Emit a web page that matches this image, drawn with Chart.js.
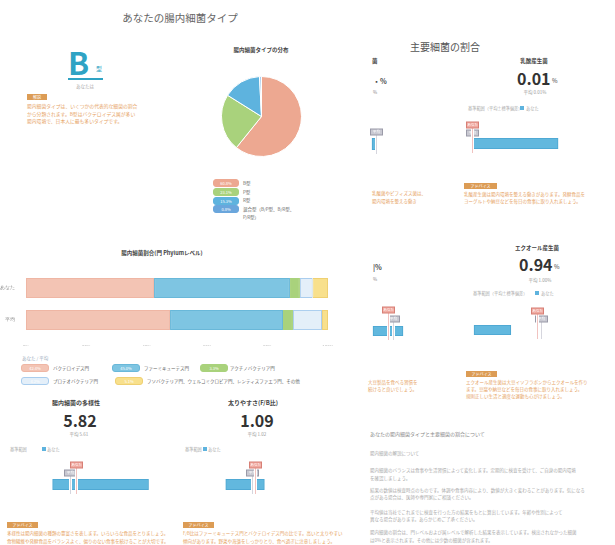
<!DOCTYPE html>
<html lang="ja">
<head>
<meta charset="utf-8">
<script src="https://cdn.jsdelivr.net/npm/chart.js@4"></script>
<style>
  body { margin: 0; width: 615px; height: 545px; background: #fff; position: relative; overflow: hidden;
         font-family: "Noto Sans CJK JP", "Noto Sans", sans-serif; }
  .t { position: absolute; white-space: nowrap; line-height: 1; }
  canvas { position: absolute; }
  .pill { position: absolute; height: 6px; border-radius: 3px; border: 1px solid; color: #fff;
          font-size: 4px; line-height: 6px; text-align: center; box-sizing: content-box; }
  .tag { position: absolute; background: #dc9c55; color: #fff; font-size: 4px; line-height: 6px;
         height: 6px; text-align: center; }
</style>
</head>
<body>
<canvas id="pie" width="81" height="81" style="left:221px;top:76px"></canvas>
<canvas id="phylum" width="340" height="84" style="left:0;top:262px"></canvas>
<canvas id="g0"></canvas><canvas id="g1"></canvas><canvas id="g2"></canvas>
<canvas id="g3"></canvas><canvas id="g4"></canvas><canvas id="g5"></canvas>
<script>
// 腸内細菌タイプの分布
const typeLabels = ['B型', 'P型', 'R型', '混合型'];
const typeShare = [60.8, 23.1, 15.3, 0.8];

// 腸内細菌割合(門 Phylumレベル)
const phylumRows = ['あなた', '平均'];
const phylumNames = ['バクテロイデス門', 'ファーミキューテス門', 'アクチノバクテリア門', 'プロテオバクテリア門', 'その他'];
const bacteroidetes = [42.4, 47.7];
const firmicutes = [45.0, 37.4];
const actinobacteria = [3.3, 3.3];
const proteobacteria = [4.2, 9.6];
const others = [5.1, 2.0];
const phylumTicks = [0, 20, 40, 60, 80, 100];

// 主要細菌の割合 / 多様性 / F/B比  (g0, g2 are the cut-off cards at the page seam)
const gaugeNames = ['', '乳酸産生菌', '', 'エクオール産生菌', '腸内細菌の多様性', '太りやすさ(F/B比)'];
const gaugeYou = [null, 0.01, 2.6, 0.94, 5.82, 1.09];
const gaugeAvg = [1.4, 0.01, 3.1, 1.00, 5.61, 1.02];
const gaugeLow = [1.0, 0, 1.1, 0, 5.0, 0.4];
const gaugeHigh = [1.4, 3.5, 4.1, 0.55, 8.35, 1.3];

const salmon = '#eda891', green = '#a9d27c', blue = '#5eb3de', pale = '#a7cdef';
const orange = '#e6a263';

function txt(x, y, s, size, color, bold, center) {
  const d = document.createElement('div');
  d.className = 't';
  d.textContent = s;
  d.style.fontSize = size + 'px';
  d.style.color = color;
  if (bold) d.style.fontWeight = 'bold';
  d.style.top = (y - size / 2) + 'px';
  d.style.left = x + 'px';
  if (center) d.style.transform = 'translateX(-50%)';
  document.body.appendChild(d);
  return d;
}
function pill(x, y, w, fill, border, s) {
  const d = document.createElement('div');
  d.className = 'pill';
  d.style.left = x + 'px'; d.style.top = (y - 4) + 'px'; d.style.width = w + 'px';
  d.style.background = fill; d.style.borderColor = border;
  d.textContent = s;
  document.body.appendChild(d);
}
function tag(x, y, w, s) {
  const d = document.createElement('div');
  d.className = 'tag';
  d.style.left = x + 'px'; d.style.top = (y - 3) + 'px'; d.style.width = w + 'px';
  d.textContent = s;
  document.body.appendChild(d);
}
function square(x, y) {
  const d = document.createElement('div');
  d.style.cssText = `position:absolute;left:${x}px;top:${y - 2}px;width:4px;height:4px;background:${blue}`;
  document.body.appendChild(d);
}

// ---- left page, top ----
txt(180, 18, 'あなたの腸内細菌タイプ', 10.5, '#666', false, true);
txt(68, 61, 'B', 31, '#2fa3c4', true);
txt(96, 69, '型', 6, '#2fa3c4');
const ul = document.createElement('div');
ul.style.cssText = 'position:absolute;left:68px;top:78px;width:35px;height:2px;background:#2fa3c4';
document.body.appendChild(ul);
txt(85, 86, 'あなたは', 4.5, '#aaa', false, true);
tag(27, 97, 20, '解説');
txt(27, 106, '腸内細菌タイプは、いくつかの代表的な細菌の割合', 4.8, orange);
txt(27, 114, 'から分類されます。B型はバクテロイデス属が多い', 4.8, orange);
txt(27, 121, '腸内環境で、日本人に最も多いタイプです。', 4.8, orange);

txt(261, 51, '腸内細菌タイプの分布', 5.5, '#444', true, true);
new Chart(document.getElementById('pie'), {
  type: 'pie',
  data: { labels: typeLabels,
          datasets: [{ data: typeShare, backgroundColor: [salmon, green, blue, pale],
                       borderColor: '#fff', borderWidth: 1 }] },
  options: { responsive: false, animation: false, devicePixelRatio: 1,
             plugins: { legend: { display: false }, tooltip: { enabled: false } } }
});
const pieColors = [salmon, green, blue, '#6aa6dc'];
typeLabels.forEach((l, i) => {
  pill(213, 183 + i * 8.8, 24, pieColors[i], pieColors[i], typeShare[i].toFixed(1) + '%');
  txt(243, 183 + i * 8.8, i === 3 ? '混合型（B/P型、B/R型、' : l, 4.5, '#666');
});
txt(243, 217, 'P/R型）', 4.5, '#666');

// ---- left page, phylum chart ----
txt(162, 254, '腸内細菌割合(門 Phylumレベル)', 5.5, '#444', true, true);
const phylumSets = [bacteroidetes, firmicutes, actinobacteria, proteobacteria, others];
const phylumFill = ['#f3c4b4', '#7ec5e2', '#a9d27c', '#e4eff9', '#f8e08c'];
const phylumEdge = ['#efb6a4', '#69b8d9', '#a9d27c', '#a9cdee', '#efd072'];
new Chart(document.getElementById('phylum'), {
  type: 'bar',
  data: {
    labels: phylumRows,
    datasets: phylumSets.map((d, i) => ({
      label: phylumNames[i], data: d, backgroundColor: phylumFill[i], borderColor: phylumEdge[i],
      borderWidth: 1, borderSkipped: false, barPercentage: 0.63, categoryPercentage: 1
    }))
  },
  options: {
    indexAxis: 'y', responsive: false, animation: false, devicePixelRatio: 1,
    layout: { padding: { top: 10, right: 12 } },
    scales: {
      x: { stacked: true, min: 0, max: 100, grid: { display: false }, border: { display: false },
           afterBuildTicks: s => { s.ticks = phylumTicks.map(v => ({ value: v })); },
           afterFit: s => { s.height = 10; },
           ticks: { font: { size: 4.5 }, color: '#bbb', padding: 1, callback: v => v + '%' } },
      y: { stacked: true, grid: { display: false }, border: { display: false },
           afterFit: s => { s.width = 26; },
           ticks: { font: { size: 4.5 }, color: '#888' } }
    },
    plugins: { legend: { display: false }, tooltip: { enabled: false } }
  }
});
txt(22, 358, 'あなた / 平均', 4.5, '#9ab');
const legendPos = [[21, 368, 53], [112, 368, 144], [200, 368, 230], [21, 381, 53], [115, 381, 147]];
const legendText = ['バクテロイデス門', 'ファーミキューテス門', 'アクチノバクテリア門', 'プロテオバクテリア門',
                    'フソバクテリア門、ウェルコミクロビア門、レンティスファエラ門、その他'];
legendPos.forEach((p, i) => {
  pill(p[0], p[1], 26, phylumFill[i], phylumEdge[i], phylumSets[i][0].toFixed(1) + '%');
  txt(p[2], p[1], legendText[i], 4.5, '#666');
});

// ---- gauges ----
const gaugeBoxes = [
  { left: 362, top: 115, width: 48, barTop: 138, barBottom: 150, youY: 124, avgY: 132, min: 0, max: 4.8 },
  { left: 455, top: 115, width: 135, barTop: 138, barBottom: 149, youY: 125, avgY: 133, min: -0.7, max: 4.8 },
  { left: 362, top: 300, width: 48, barTop: 326, barBottom: 336, youY: 310, avgY: 319, min: 0, max: 4.8 },
  { left: 455, top: 300, width: 140, barTop: 325, barBottom: 335, youY: 311, avgY: 319, min: -0.284, max: 1.806 },
  { left: 30, top: 455, width: 140, barTop: 479, barBottom: 490, youY: 465, avgY: 473, min: 4.21, max: 9.1 },
  { left: 200, top: 455, width: 100, barTop: 479, barBottom: 490, youY: 465, avgY: 473, min: -0.2, max: 2.13 }
];
gaugeBoxes.forEach((b, i) => {
  const cv = document.getElementById('g' + i);
  const h = b.barBottom - b.top + 14;
  cv.width = b.width; cv.height = h;
  cv.style.left = b.left + 'px'; cv.style.top = b.top + 'px';
  const marks = [];
  if (gaugeAvg[i] !== null) marks.push({ v: gaugeAvg[i], y: b.avgY - b.top, fill: '#c9c9d2', edge: '#9a9aa8', line: '#d6d6de', s: '平均' });
  if (gaugeYou[i] !== null) marks.push({ v: gaugeYou[i], y: b.youY - b.top, fill: '#f0a9a0', edge: '#d77f75', line: '#f1c3c0', s: 'あなた' });
  new Chart(cv, {
    type: 'bar',
    data: { labels: [''], datasets: [{ data: [[gaugeLow[i], gaugeHigh[i]]], backgroundColor: '#62b8de',
            borderColor: '#4aa5d0', borderWidth: 1, borderSkipped: false, barPercentage: 1, categoryPercentage: 1 }] },
    options: {
      indexAxis: 'y', responsive: false, animation: false, devicePixelRatio: 1,
      layout: { padding: { top: b.barTop - b.top, bottom: 14, left: 0, right: 0 } },
      scales: { x: { type: 'linear', min: b.min, max: b.max, display: false }, y: { display: false } },
      plugins: { legend: { display: false }, tooltip: { enabled: false } }
    },
    plugins: [{
      id: 'marks',
      afterDatasetsDraw(chart) {
        const { ctx, chartArea, scales } = chart;
        marks.forEach(m => {
          const x = Math.round(scales.x.getPixelForValue(m.v)) + 0.5;
          ctx.save();
          ctx.strokeStyle = '#fff'; ctx.lineWidth = 3;
          ctx.beginPath(); ctx.moveTo(x, m.y + 3); ctx.lineTo(x, chartArea.bottom + 4); ctx.stroke();
          ctx.strokeStyle = m.line; ctx.lineWidth = 1;
          ctx.beginPath(); ctx.moveTo(x, m.y + 3); ctx.lineTo(x, chartArea.bottom + 4); ctx.stroke();
          ctx.fillStyle = m.fill; ctx.strokeStyle = m.edge;
          ctx.fillRect(x - 6, m.y - 3, 12, 6); ctx.strokeRect(x - 6, m.y - 3, 12, 6);
          ctx.fillStyle = '#fff'; ctx.font = '3.5px "Noto Sans CJK JP"';
          ctx.textAlign = 'center'; ctx.textBaseline = 'middle';
          ctx.fillText(m.s, x, m.y);
          ctx.restore();
        });
      }
    }]
  });
});

// ---- right page ----
txt(445, 47, '主要細菌の割合', 10, '#555', false, true);
txt(372, 62, '菌', 5.5, '#444', true);
txt(373, 81, '・%', 7, '#444', true);
txt(373, 92, '%', 4.5, '#888');
txt(534, 62, gaugeNames[1], 5.5, '#444', true, true);
txt(517, 78, gaugeYou[1].toFixed(2), 16, '#333', true);
txt(552, 81, '%', 6, '#444');
txt(535, 92, '平均 ' + gaugeAvg[1].toFixed(2) + '%', 4.5, '#999', false, true);
txt(468, 108, '基準範囲（平均±標準偏差）', 4.2, '#aaa');
square(520, 108); txt(526, 108, 'あなた', 4.2, '#aaa');
txt(372, 193, '乳酸菌やビフィズス菌は、', 4.5, orange);
txt(372, 201, '腸内環境を整える働き', 4.5, orange);
tag(464, 186, 33, 'アドバイス');
txt(464, 194, '乳酸産生菌は腸内環境を整える働きがあります。発酵食品を', 4.5, orange);
txt(464, 201, 'ヨーグルトや納豆などを毎日の食事に取り入れましょう。', 4.5, orange);

txt(373, 267, '|%', 7, '#444', true);
txt(373, 279, '%', 4.5, '#888');
txt(537, 249, gaugeNames[3], 5.5, '#444', true, true);
txt(519, 264, gaugeYou[3].toFixed(2), 16, '#333', true);
txt(554, 267, '%', 6, '#444');
txt(540, 280, '平均 ' + gaugeAvg[3].toFixed(2) + '%', 4.5, '#999', false, true);
txt(473, 293, '基準範囲（平均±標準偏差）', 4.2, '#aaa');
square(535, 293); txt(541, 293, 'あなた', 4.2, '#aaa');
txt(368, 382, '大豆製品を食べる習慣を', 4.5, orange);
txt(368, 389, '続けると良いでしょう。', 4.5, orange);
tag(466, 374, 31, 'アドバイス');
txt(466, 382, 'エクオール産生菌は大豆イソフラボンからエクオールを作り', 4.5, orange);
txt(466, 389, 'ます。豆腐や納豆などを毎日の食事に取り入れましょう。', 4.5, orange);
txt(466, 396, '規則正しい生活と適度な運動も心がけましょう。', 4.5, orange);

// ---- left page, bottom cards ----
txt(76, 403, gaugeNames[4], 6, '#444', true, true);
txt(80, 420, gaugeYou[4].toFixed(2), 16, '#333', true, true);
txt(79, 434, '平均 ' + gaugeAvg[4].toFixed(2), 4.5, '#999', false, true);
txt(10, 449, '基準範囲', 4.2, '#aaa');
square(42, 449); txt(47, 449, 'あなた', 4.2, '#aaa');
txt(253, 403, gaugeNames[5], 6, '#444', true, true);
txt(257, 420, gaugeYou[5].toFixed(2), 16, '#333', true, true);
txt(257, 434, '平均 ' + gaugeAvg[5].toFixed(2), 4.5, '#999', false, true);
txt(185, 449, '基準範囲', 4.2, '#aaa');
square(203, 449); txt(208, 449, 'あなた', 4.2, '#aaa');
tag(7, 525, 31, 'アドバイス');
txt(7, 533, '多様性は腸内細菌の種類の豊富さを表します。いろいろな食品をとりましょう。', 4.5, orange);
txt(7, 541, '食物繊維や発酵食品をバランスよく、偏りのない食事を続けることが大切です。', 4.5, orange);
tag(183, 525, 31, 'アドバイス');
txt(183, 533, 'F/B比はファーミキューテス門とバクテロイデス門の比です。高いと太りやすい', 4.5, orange);
txt(183, 541, '傾向があります。野菜や海藻をしっかりとり、食べ過ぎに注意しましょう。', 4.5, orange);

// ---- right page, notes ----
txt(370, 433, 'あなたの腸内細菌タイプと主要細菌の割合について', 5, '#888');
txt(370, 453, '腸内細菌の解説について', 4.5, '#aaa');
txt(370, 470, '腸内細菌のバランスは食事や生活習慣によって変化します。定期的に検査を受けて、ご自身の腸内環境', 4.5, '#aaa');
txt(370, 478, 'を確認しましょう。', 4.5, '#aaa');
txt(370, 490, '結果の数値は検査時点のものです。体調や食事内容により、数値が大きく変わることがあります。気になる', 4.5, '#aaa');
txt(370, 497, '点がある場合は、医師や専門家にご相談ください。', 4.5, '#aaa');
txt(370, 512, '平均値は当社でこれまでに検査を行った方の結果をもとに算出しています。年齢や性別によって', 4.5, '#aaa');
txt(370, 519, '異なる場合があります。あらかじめご了承ください。', 4.5, '#aaa');
txt(370, 532, '腸内細菌の割合は、門レベルおよび属レベルで解析した結果を表示しています。検出されなかった細菌', 4.5, '#aaa');
txt(370, 540, 'は0%と表示されます。その他には少数の細菌が含まれます。', 4.5, '#aaa');
</script>
</body>
</html>
